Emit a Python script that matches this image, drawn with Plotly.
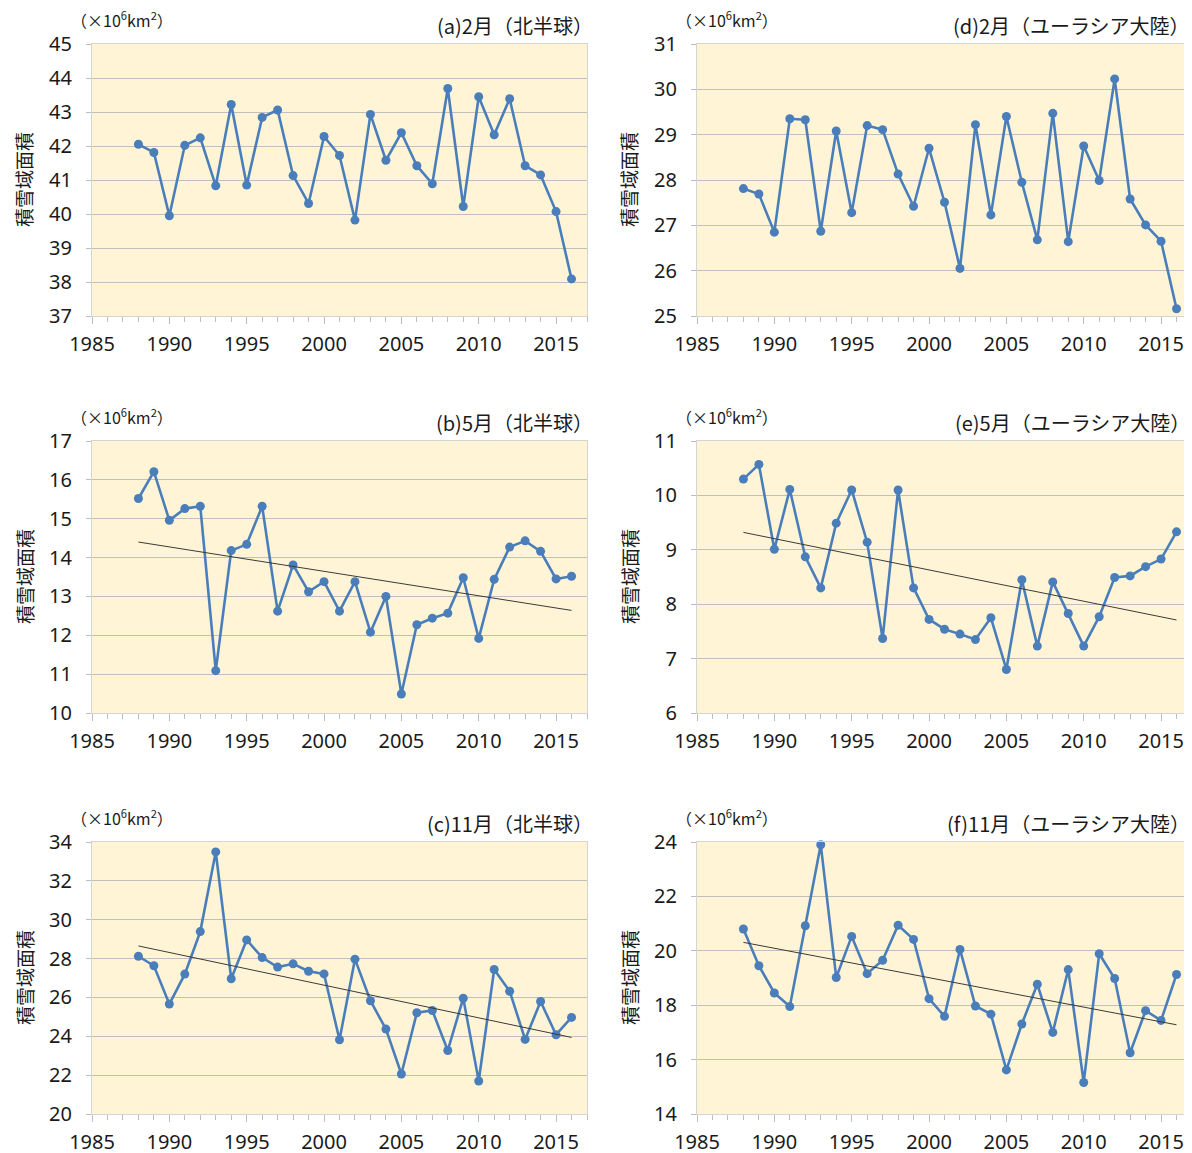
import plotly.graph_objects as go

years = list(range(1988, 2017))

feb_nh = [42.05, 41.81, 39.95, 42.02, 42.24, 40.83, 43.22, 40.85, 42.84, 43.06,
          41.13, 40.31, 42.28, 41.72, 39.82, 42.93, 41.58, 42.39, 41.42, 40.89,
          43.69, 40.22, 43.45, 42.33, 43.39, 41.42, 41.15, 40.07, 38.09]
may_nh = [15.52, 16.21, 14.96, 15.26, 15.32, 11.09, 14.18, 14.34, 15.32, 12.62,
          13.81, 13.12, 13.38, 12.62, 13.38, 12.08, 13.00, 10.49, 12.27, 12.44,
          12.57, 13.48, 11.92, 13.44, 14.27, 14.43, 14.16, 13.45, 13.52]
nov_nh = [28.12, 27.63, 25.66, 27.20, 29.39, 33.49, 26.96, 28.96, 28.05, 27.56,
          27.73, 27.35, 27.21, 23.82, 27.97, 25.83, 24.37, 22.06, 25.21, 25.33,
          23.27, 25.96, 21.70, 27.44, 26.32, 23.84, 25.79, 24.08, 24.97]
feb_eu = [27.81, 27.69, 26.85, 29.35, 29.33, 26.87, 29.08, 27.28, 29.20, 29.11,
          28.13, 27.42, 28.70, 27.51, 26.05, 29.22, 27.23, 29.40, 27.95, 26.68,
          29.47, 26.64, 28.75, 27.99, 30.23, 27.58, 27.01, 26.65, 25.16]
may_eu = [10.30, 10.57, 9.01, 10.11, 8.87, 8.30, 9.49, 10.10, 9.14, 7.37,
          10.10, 8.30, 7.72, 7.54, 7.45, 7.35, 7.75, 6.80, 8.45, 7.23,
          8.41, 7.83, 7.23, 7.77, 8.49, 8.52, 8.69, 8.83, 9.33]
nov_eu = [20.80, 19.45, 18.45, 17.95, 20.92, 23.90, 19.02, 20.53, 19.16, 19.65,
          20.94, 20.42, 18.24, 17.59, 20.05, 17.97, 17.67, 15.62, 17.31, 18.77,
          17.00, 19.31, 15.16, 19.89, 18.98, 16.25, 17.80, 17.44, 19.13]

trend_years = [1988, 2016]
trend_may_nh = [14.40, 12.64]
trend_nov_nh = [28.65, 23.94]
trend_may_eu = [9.32, 7.71]
trend_nov_eu = [20.31, 17.28]

titles = ["(a)2月（北半球）", "(b)5月（北半球）", "(c)11月（北半球）",
          "(d)2月（ユーラシア大陸）", "(e)5月（ユーラシア大陸）", "(f)11月（ユーラシア大陸）"]
y_ranges = [[37, 45], [10, 17], [20, 34], [25, 31], [6, 11], [14, 24]]
y_dticks = [1, 1, 2, 1, 1, 2]
series = [feb_nh, may_nh, nov_nh, feb_eu, may_eu, nov_eu]
trends = [None, trend_may_nh, trend_nov_nh, None, trend_may_eu, trend_nov_eu]
unit_text = "（×10<sup>6</sup>km<sup>2</sup>）"
ytitle = "積雪域面積"

W, H = 1192, 1153
OFF = 8  # page body margin compensation
x_px = [(92 - OFF, 587 - OFF), (697 - OFF, 1192 - OFF)]
y_px = [(44 - OFF, 316 - OFF), (441 - OFF, 713 - OFF), (842 - OFF, 1114 - OFF)]

LINE = "#4A7EBB"
GRID = "#BFBFBF"
AXIS = "#D4D4D4"
BG = "#FFF5D6"
FONT = "Noto Sans CJK JP"
NUMFONT = "Noto Sans"

fig = go.Figure()
annotations = []

for i in range(6):
    col = i // 3
    row = i % 3
    n = i + 1
    xa = "x" if n == 1 else f"x{n}"
    ya = "y" if n == 1 else f"y{n}"
    xd = [x_px[col][0] / W, x_px[col][1] / W]
    yd = [1 - y_px[row][1] / H, 1 - y_px[row][0] / H]
    pw = x_px[col][1] - x_px[col][0]

    fig.add_trace(go.Scatter(
        x=years, y=series[i], xaxis=xa, yaxis=ya, mode="lines+markers",
        line=dict(color=LINE, width=2.6),
        marker=dict(color=LINE, size=9),
        showlegend=False, cliponaxis=False,
    ))
    if trends[i] is not None:
        fig.add_trace(go.Scatter(
            x=trend_years, y=trends[i], xaxis=xa, yaxis=ya, mode="lines",
            line=dict(color="#3A3A3A", width=1),
            showlegend=False,
        ))

    xkey = "xaxis" if n == 1 else f"xaxis{n}"
    ykey = "yaxis" if n == 1 else f"yaxis{n}"
    fig.update_layout(**{
        xkey: dict(
            domain=xd, anchor=ya, range=[1985, 2017], tick0=1985, dtick=5,
            automargin=False,
            showgrid=False, zeroline=False,
            showline=True, linecolor=AXIS, linewidth=1, mirror=True,
            ticks="outside", ticklen=7, tickcolor="#BDBDBD", tickwidth=1,
            minor=dict(dtick=1, tick0=1985, ticks="outside", ticklen=5,
                       tickcolor="#BDBDBD", showgrid=False),
            tickfont=dict(family=NUMFONT, size=20, color="#1A1A1A"),
            ticklabelstandoff=3,
        ),
        ykey: dict(
            domain=yd, anchor=xa, range=y_ranges[i], dtick=y_dticks[i],
            automargin=False,
            showgrid=True, gridcolor=GRID, gridwidth=1, zeroline=False,
            showline=True, linecolor=AXIS, linewidth=1, mirror=True,
            ticks="outside", ticklen=5, tickcolor="#BDBDBD",
            tickfont=dict(family=NUMFONT, size=20, color="#1A1A1A"),
            ticklabelstandoff=10,
        ),
    })

    xdom = f"{xa} domain"
    ydom = f"{ya} domain"
    annotations.append(dict(
        text=titles[i], xref=xdom, yref=ydom, x=1.0,
        y=1.0, xanchor="right", yanchor="bottom", yshift=2,
        xshift=8 if col == 0 else 0,
        showarrow=False, font=dict(family=FONT, size=20, color="#1A1A1A"),
    ))
    annotations.append(dict(
        text=unit_text, xref=xdom, yref=ydom, x=-23 / pw,
        y=1.0, xanchor="left", yanchor="bottom", yshift=10,
        showarrow=False, font=dict(family=FONT, size=16, color="#1A1A1A"),
    ))
    annotations.append(dict(
        text=ytitle, xref=xdom, yref=ydom, x=-68 / pw, y=0.5,
        xanchor="center", yanchor="middle", textangle=-90,
        showarrow=False, font=dict(family=FONT, size=19, color="#1A1A1A"),
    ))

fig.update_layout(
    width=W, height=H, margin=dict(l=0, r=0, t=0, b=0),
    paper_bgcolor="white", plot_bgcolor=BG,
    annotations=annotations,
)

fig.write_html("out.html")
